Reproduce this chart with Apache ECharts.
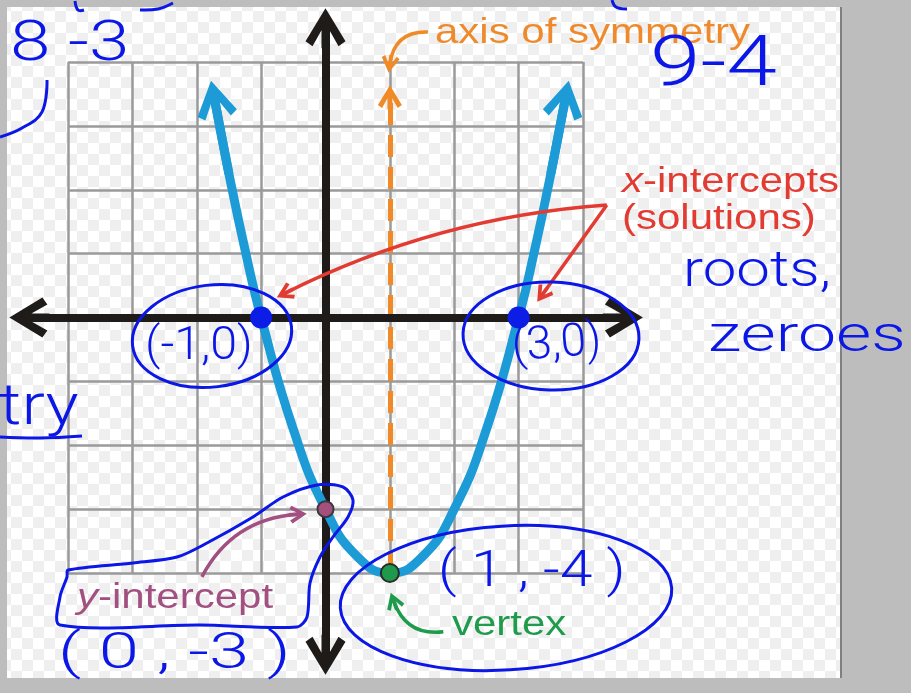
<!DOCTYPE html>
<html>
<head>
<meta charset="utf-8">
<script src="https://cdn.jsdelivr.net/npm/echarts@6/dist/echarts.min.js"></script>
<style>
html,body{margin:0;padding:0;background:#bdbdbd}
#main{width:911px;height:693px}
</style>
</head>
<body>
<div id="main"></div>
<script>
// 网格范围
var gridRange = [-4, 4];

// 黑色坐标轴 (两端箭头)
var axisX = [[-4.6, 0], [4.62, 0]];
var axisY = [[0, -5.28], [0, 4.53]];

// 抛物线上的点（从图上读的）
var curveX = [-1.72, -1.5, -1.25, -1, -0.5, 0, 0.5, 1, 1.5, 2, 2.5, 3, 3.25, 3.5, 3.72];
var curveY = [3.4, 2.25, 1.06, 0, -1.75, -3, -3.75, -4, -3.75, -3, -1.75, 0, 1.06, 2.25, 3.4];
var curveArrowLeft = [[-1.5, 2.25], [-1.72, 3.4]];
var curveArrowRight = [[3.5, 2.25], [3.72, 3.4]];

// 对称轴
var symmetryLine = [[1, -4], [1, 3.45]];

// 特殊点
var xIntercepts = [[-1, 0], [3, 0]];
var yIntercept = [[0, -3]];
var vertexPt = [[1, -4]];

// 指示箭头
var pointerSymmetry = [[1.59, 4.47], [1.0, 3.97]];
var pointerXLeft = [[4.37, 1.76], [-0.63, 0.38]];
var pointerXRight = [[4.37, 1.76], [3.37, 0.36]];
var pointerY = [[-1.92, -4.06], [-0.43, -3.08]];
var pointerVertex = [[1.83, -4.92], [1.06, -4.44]];

// 文字
var labelSymmetry = 'axis of symmetry';
var labelX1 = '{i|x}-intercepts';
var labelX2 = '(solutions)';
var labelY = '{i|y}-intercept';
var labelVertex = 'vertex';

var myChart = echarts.init(document.getElementById('main'));

var chevron = 'path://M20,0 L40,33 L33,38 L24,22 L24,40 L16,40 L16,22 L7,38 L0,33 Z';

// 棋盘格背景
var cv = document.createElement('canvas');
cv.width = 22; cv.height = 22;
var c2 = cv.getContext('2d');
c2.fillStyle = '#ffffff'; c2.fillRect(0, 0, 22, 22);
c2.fillStyle = '#efefef'; c2.fillRect(0, 0, 11, 11); c2.fillRect(11, 11, 11, 11);

var handColor = '#0b17e6';
var printFont = 'Liberation Sans';

function hand(text, x, y, size, sx, rot) {
    return {
        type: 'text', x: x, y: y, scaleX: sx || 1, rotation: rot || 0, z: 100,
        style: {text: text, fontSize: size, fontFamily: 'Roboto', fontWeight: 300, fill: handColor,
            align: 'left', verticalAlign: 'middle', textAlign: 'left', textVerticalAlign: 'middle'}
    };
}
function print(text, x, y, color) {
    return {
        type: 'text', x: x, y: y, scaleX: 1.2, z: 90,
        style: {text: text, fontSize: 35, fontFamily: printFont, fill: color,
            align: 'left', verticalAlign: 'middle', textAlign: 'left', textVerticalAlign: 'middle',
            rich: {i: {fontStyle: 'italic', fontSize: 35, fontFamily: printFont, fill: color}}}
    };
}
function ring(cx, cy, rx, ry, rot) {
    return {type: 'ellipse', x: cx, y: cy, rotation: rot || 0, z: 100,
        shape: {cx: 0, cy: 0, rx: rx, ry: ry},
        style: {fill: 'none', stroke: handColor, lineWidth: 3}};
}
function scribble(points) {
    return {type: 'polyline', z: 100, shape: {points: points, smooth: 0.4},
        style: {fill: 'none', stroke: handColor, lineWidth: 3}};
}

var option = {
    backgroundColor: '#bdbdbd',
    animation: false,
    grid: {left: 68, top: 62, width: 515, height: 511},
    xAxis: {
        type: 'value', min: gridRange[0], max: gridRange[1], interval: 1,
        axisLine: {show: false}, axisTick: {show: false}, axisLabel: {show: false},
        splitLine: {show: true, lineStyle: {color: '#9a9a9a', width: 2.5}}
    },
    yAxis: {
        type: 'value', min: gridRange[0], max: gridRange[1], interval: 1,
        axisLine: {show: false}, axisTick: {show: false}, axisLabel: {show: false},
        splitLine: {show: true, lineStyle: {color: '#9a9a9a', width: 2.5}}
    },
    series: [
        {
            type: 'lines', coordinateSystem: 'cartesian2d', clip: false, z: 2,
            symbol: ['none', chevron], symbolSize: 24,
            lineStyle: {color: '#f08a26', width: 5, type: [22, 10], opacity: 1},
            data: [{coords: symmetryLine}]
        },
        {
            type: 'lines', coordinateSystem: 'cartesian2d', clip: false, z: 3,
            symbol: [chevron, chevron], symbolSize: 40,
            lineStyle: {color: '#1f1b19', width: 8, opacity: 1},
            data: [{coords: axisX}, {coords: axisY}]
        },
        {
            type: 'line', smooth: true, showSymbol: false, symbol: 'none', z: 4,
            lineStyle: {color: '#1d9bd7', width: 9},
            data: curveX.map(function (x, i) { return [x, curveY[i]]; })
        },
        {
            type: 'lines', coordinateSystem: 'cartesian2d', clip: false, z: 4,
            symbol: ['none', chevron], symbolSize: 40,
            lineStyle: {color: '#1d9bd7', width: 9, opacity: 1},
            data: [{coords: curveArrowLeft}, {coords: curveArrowRight}]
        },
        {
            type: 'lines', coordinateSystem: 'cartesian2d', clip: false, z: 5,
            symbol: ['none', chevron], symbolSize: 18,
            lineStyle: {width: 3.5, opacity: 1},
            data: [
                {coords: pointerSymmetry, lineStyle: {color: '#f08a26', curveness: -0.45}},
                {coords: pointerXLeft, lineStyle: {color: '#e23b32', curveness: -0.1}},
                {coords: pointerXRight, lineStyle: {color: '#e23b32', curveness: 0}},
                {coords: pointerY, lineStyle: {color: '#a24f81', curveness: 0.28}},
                {coords: pointerVertex, lineStyle: {color: '#1e9b4b', curveness: 0.4}}
            ]
        },
        {
            type: 'scatter', z: 6, symbolSize: 16,
            itemStyle: {color: '#a3507f', borderColor: '#3a3a3a', borderWidth: 2, opacity: 1},
            data: yIntercept
        },
        {
            type: 'scatter', z: 6, symbolSize: 18,
            itemStyle: {color: '#1f9a4d', borderColor: '#2a2a2a', borderWidth: 2, opacity: 1},
            data: vertexPt
        },
        {
            type: 'scatter', z: 7, symbolSize: 22,
            itemStyle: {color: '#0c1de6', opacity: 1},
            data: xIntercepts
        }
    ],
    graphic: [
        {type: 'rect', z: -100, shape: {x: 7, y: 7, width: 833, height: 671},
            style: {fill: {image: cv, repeat: 'repeat'}}},
        {type: 'line', z: -99, shape: {x1: 841, y1: 7, x2: 841, y2: 678},
            style: {stroke: '#808080', lineWidth: 2}},
        print(labelSymmetry, 435, 33, '#ef8a2c'),
        print(labelX1, 622, 182, '#e23b32'),
        print(labelX2, 622, 219, '#e23b32'),
        print(labelY, 77, 598, '#a24f81'),
        print(labelVertex, 452, 625, '#1e9b4b'),
        // 手写部分
        hand('8 -3', 10, 46, 56, 1.3),
        hand('9-4', 650, 67, 70, 1.3),
        hand('roots,', 683, 273, 50, 1.2),
        hand('zeroes', 708, 338, 50, 1.36),
        hand('(-1,0)', 145, 347, 46, 1.05),
        hand('(3,0)', 512, 349, 46, 1, 0.08),
        hand('( 1 , -4 )', 438, 573, 50, 1.17),
        hand('( 0 , -3 )', 58, 655, 50, 1.45),
        hand('etry', -37, 409, 58, 1.2),
        scribble([[0, 437], [40, 438], [82, 436]]),
        scribble([[47, 80], [42, 112], [22, 128], [0, 137]]),
        scribble([[140, 10], [158, 9], [173, 3]]),
        scribble([[75, 1], [78, 10], [84, 10]]),
        scribble([[612, 0], [616, 7], [627, 9]]),
        ring(212, 336, 80, 51, 0.12),
        ring(551, 336, 88, 54, -0.03),
        ring(506, 598, 166, 72, 0.06),
        {type: 'polygon', z: 100,
            shape: {smooth: 0.3, points: [[68, 570], [133, 563], [177, 557], [207, 543], [253, 517],
                [283, 497], [317, 485], [343, 487], [353, 500], [348, 517], [333, 537], [320, 557],
                [310, 583], [307, 617], [297, 627], [200, 625], [60, 625], [60, 597], [67, 577]]},
            style: {fill: 'none', stroke: handColor, lineWidth: 3}}
    ]
};

myChart.setOption(option);
</script>
</body>
</html>
